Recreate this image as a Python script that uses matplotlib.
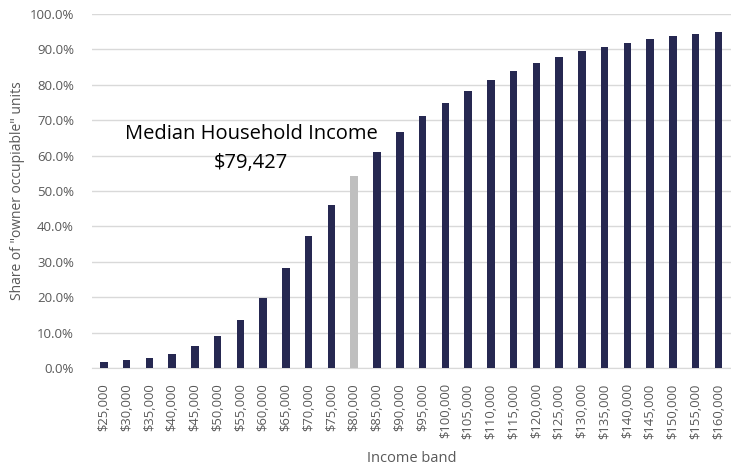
import matplotlib.pyplot as plt
from matplotlib.ticker import PercentFormatter

# Income bands and share of "owner occupiable" units (%)
bands = ['$25,000', '$30,000', '$35,000', '$40,000', '$45,000', '$50,000', '$55,000',
         '$60,000', '$65,000', '$70,000', '$75,000', '$80,000', '$85,000', '$90,000',
         '$95,000', '$100,000', '$105,000', '$110,000', '$115,000', '$120,000',
         '$125,000', '$130,000', '$135,000', '$140,000', '$145,000', '$150,000',
         '$155,000', '$160,000']
share = [1.6, 2.2, 2.9, 4.0, 6.1, 9.1, 13.5, 19.8, 28.2, 37.4, 46.0, 54.2, 61.1, 66.6,
         71.3, 74.9, 78.3, 81.3, 83.9, 86.2, 87.9, 89.5, 90.8, 91.9, 92.8, 93.8,
         94.4, 95.0]
median_band = '$80,000'

plt.rcParams['font.family'] = ['Open Sans', 'DejaVu Sans']

fig = plt.figure(figsize=(7.31, 4.66), dpi=100)
ax = fig.add_axes([92 / 731, 98 / 466, 639 / 731, 354 / 466])

colors = ['#bfbfbf' if b == median_band else '#262851' for b in bands]
x = range(len(bands))
ax.bar(x, share, width=0.33, color=colors, zorder=3)

ax.set_ylim(0, 100)
ax.set_xlim(-0.52, len(bands) - 0.45)
ax.set_yticks(range(0, 101, 10))
ax.yaxis.set_major_formatter(PercentFormatter(decimals=1))
ax.grid(axis='y', color='#d9d9d9', linewidth=1, zorder=0)
for s in ['top', 'right', 'left']:
    ax.spines[s].set_visible(False)
ax.spines['bottom'].set_color('#d9d9d9')
ax.tick_params(axis='y', length=0, colors='#595959', labelsize=9.5, pad=13)
ax.set_xticks(list(x))
ax.set_xticklabels(bands, rotation=90)
ax.tick_params(axis='x', length=0, colors='#595959', labelsize=9.4, pad=11)

ax.set_xlabel('Income band', color='#595959', fontsize=10.5, labelpad=9)
ax.set_ylabel('Share of "owner occupiable" units', color='#595959', fontsize=10,
              labelpad=3)

ax.text(6.48, 66.1, 'Median Household Income', fontsize=14.5, ha='center', va='center',
        color='black')
ax.text(6.48, 57.9, '$79,427', fontsize=14.5, ha='center', va='center', color='black')

fig.savefig('out.png', dpi=100)
